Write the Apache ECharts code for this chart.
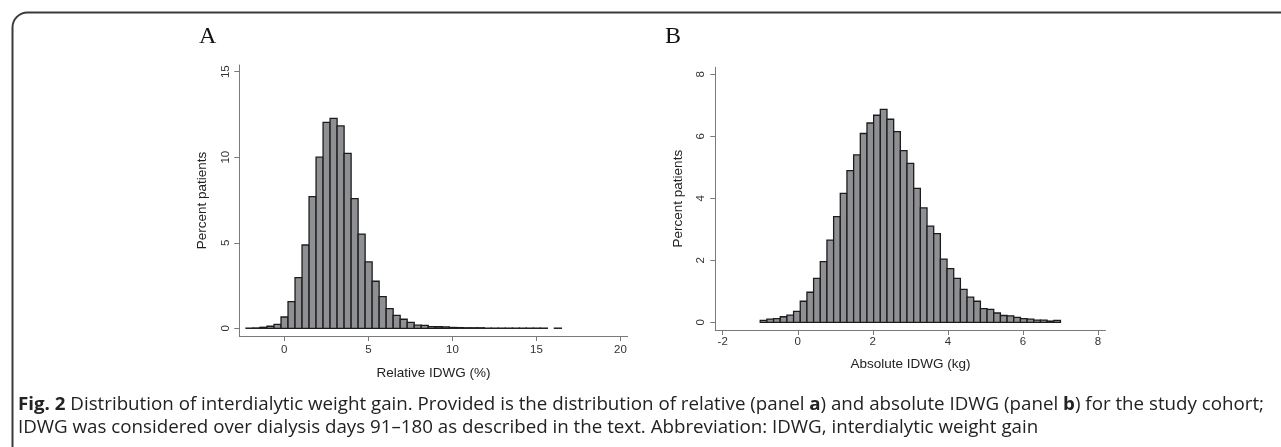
<!DOCTYPE html>
<html>
<head>
<meta charset="utf-8">
<script src="https://cdn.jsdelivr.net/npm/echarts@6/dist/echarts.min.js"></script>
<style>
html,body{margin:0;padding:0;background:#fff;}
#chart{width:1281px;height:447px;}
</style>
</head>
<body>
<div id="chart"></div>
<script>
// ---------- DATA ----------
// Panel A: Relative IDWG (%) histogram, 45 bins
const relBinStart = -2.28;
const relBinWidth = 0.417;
const relPercent = [
  0.01, 0.02, 0.06, 0.12, 0.23, 0.66, 1.56, 2.96, 4.87, 7.70,
  10.00, 12.04, 12.27, 11.83, 10.23, 7.58, 5.51, 3.88, 2.75, 1.85,
  1.15, 0.76, 0.53, 0.35, 0.18, 0.17, 0.10, 0.09, 0.08, 0.05,
  0.04, 0.03, 0.03, 0.03, 0.01, 0.01, 0.01, 0.01, 0.01, 0.01,
  0.01, 0.01, 0.01, 0, 0.01
];
// Panel B: Absolute IDWG (kg) histogram, 45 bins
const absBinStart = -1.0;
const absBinWidth = 0.17778;
const absPercent = [
  0.06, 0.10, 0.12, 0.18, 0.23, 0.35, 0.68, 0.97, 1.42, 1.96,
  2.65, 3.41, 4.16, 4.89, 5.40, 6.09, 6.43, 6.68, 6.87, 6.55,
  6.15, 5.54, 5.13, 4.32, 3.69, 3.10, 2.86, 2.04, 1.73, 1.42,
  1.06, 0.81, 0.68, 0.44, 0.42, 0.30, 0.22, 0.21, 0.16, 0.12,
  0.10, 0.07, 0.07, 0.04, 0.06
];
const relXTicks = [0, 5, 10, 15, 20];
const relYTicks = [0, 5, 10, 15];
const absXTicks = [-2, 0, 2, 4, 6, 8];
const absYTicks = [0, 2, 4, 6, 8];
const panelLabels = ['A', 'B'];
const relXTitle = 'Relative IDWG (%)';
const absXTitle = 'Absolute IDWG (kg)';
const yTitle = 'Percent patients';
// {b|...} marks bold text
const captionLine1 = '{b|Fig. 2} Distribution of interdialytic weight gain. Provided is the distribution of relative (panel {b|a}) and absolute IDWG (panel {b|b}) for the study cohort;';
const captionLine2 = 'IDWG was considered over dialysis days 91\u2013180 as described in the text. Abbreviation: IDWG, interdialytic weight gain';

// ---------- BUILD ----------
function binsToRows(start, width, vals) {
  return vals.map((v, i) => [start + i * width, start + (i + 1) * width, v]);
}
const relRows = binsToRows(relBinStart, relBinWidth, relPercent);
const absRows = binsToRows(absBinStart, absBinWidth, absPercent);

function renderBar(params, api) {
  const y = api.value(2);
  if (!(y > 0)) return null;
  const p0 = api.coord([api.value(0), y]);
  const p1 = api.coord([api.value(1), 0]);
  return {
    type: 'rect',
    shape: { x: p0[0], y: p0[1], width: p1[0] - p0[0], height: p1[1] - p0[1] },
    style: { fill: '#8f9093', stroke: '#1c1c1c', lineWidth: 1.3 }
  };
}

const axisLineStyle = { color: '#7a7a7a', width: 1 };
const tickLabel = { fontFamily: 'Liberation Sans, Arial, sans-serif', fontSize: 11.5, color: '#333' };
const titleStyle = { fontFamily: 'Liberation Sans, Arial, sans-serif', fontSize: 13.5, color: '#222' };

function xAxis(gridIndex, min, max, ticks, name, labelMargin, nameGap) {
  return {
    type: 'value', gridIndex, min, max,
    axisLine: { show: true, onZero: false, lineStyle: axisLineStyle },
    axisTick: { show: true, length: 5, lineStyle: axisLineStyle, customValues: ticks },
    axisLabel: Object.assign({ margin: labelMargin, customValues: ticks }, tickLabel),
    splitLine: { show: false },
    name, nameLocation: 'middle', nameGap, nameTextStyle: titleStyle
  };
}
function yAxis(gridIndex, min, max, ticks, name, labelMargin, nameGap) {
  return {
    type: 'value', gridIndex, min, max,
    axisLine: { show: true, onZero: false, lineStyle: axisLineStyle },
    axisTick: { show: true, length: 5, lineStyle: axisLineStyle, customValues: ticks },
    axisLabel: Object.assign({ margin: labelMargin, rotate: 90, customValues: ticks }, tickLabel),
    splitLine: { show: false },
    name, nameLocation: 'middle', nameGap, nameTextStyle: titleStyle
  };
}

// ---------- caption: scale the face so line 1 spans the caption width ----------
const capFont = '"Open Sans", sans-serif';
const capSize = 17.5;
const capColor = '#222';
const capLeft = 18, capWidth = 1246;
const cv = document.createElement('canvas').getContext('2d');
function measure(str) {
  let w = 0; const re = /\{b\|([^}]*)\}|([^{]+)/g; let m;
  while ((m = re.exec(str))) {
    const bold = m[1] !== undefined;
    cv.font = (bold ? 'bold ' : '') + capSize + 'px ' + capFont;
    w += cv.measureText(bold ? m[1] : m[2]).width;
  }
  return w;
}
const capScale = capWidth / measure(captionLine1);
const richStyles = { b: { fontWeight: 'bold', fontFamily: capFont, fontSize: capSize, fill: capColor } };

const chart = echarts.init(document.getElementById('chart'), null, { renderer: 'canvas' });
chart.setOption({
  animation: false,
  backgroundColor: '#ffffff',
  grid: [
    { left: 239.3, top: 65, width: 388.4, height: 271 },
    { left: 715.3, top: 67.3, width: 390.2, height: 262.7 }
  ],
  xAxis: [
    xAxis(0, -2.677, 20.43, relXTicks, relXTitle, 8, 30),
    xAxis(1, -2.197, 8.2, absXTicks, absXTitle, 6, 27)
  ],
  yAxis: [
    yAxis(0, -0.45, 15.39, relYTicks, yTitle, 7, 30),
    yAxis(1, -0.248, 8.226, absYTicks, yTitle, 8, 30)
  ],
  series: [
    { type: 'custom', xAxisIndex: 0, yAxisIndex: 0, data: relRows, encode: { x: [0, 1], y: 2 }, renderItem: renderBar, clip: false },
    { type: 'custom', xAxisIndex: 1, yAxisIndex: 1, data: absRows, encode: { x: [0, 1], y: 2 }, renderItem: renderBar, clip: false }
  ],
  graphic: [
    { type: 'rect', left: 10, top: 10, shape: { width: 1400, height: 500, r: 15 },
      style: { fill: 'none', stroke: '#3a3a3a', lineWidth: 2 }, silent: true, z: 0 },
    { type: 'text', x: 199, y: 25, style: { text: panelLabels[0], font: '24px "Liberation Serif", serif', fill: '#111' } },
    { type: 'text', x: 665, y: 25, style: { text: panelLabels[1], font: '24px "Liberation Serif", serif', fill: '#111' } },
    { type: 'text', x: capLeft, y: 396, scaleX: capScale, silent: true,
      style: { text: captionLine1, fontFamily: capFont, fontSize: capSize, fill: capColor, rich: richStyles } },
    { type: 'text', x: capLeft, y: 419, scaleX: capScale, silent: true,
      style: { text: captionLine2, fontFamily: capFont, fontSize: capSize, fill: capColor } }
  ]
});
</script>
</body>
</html>
